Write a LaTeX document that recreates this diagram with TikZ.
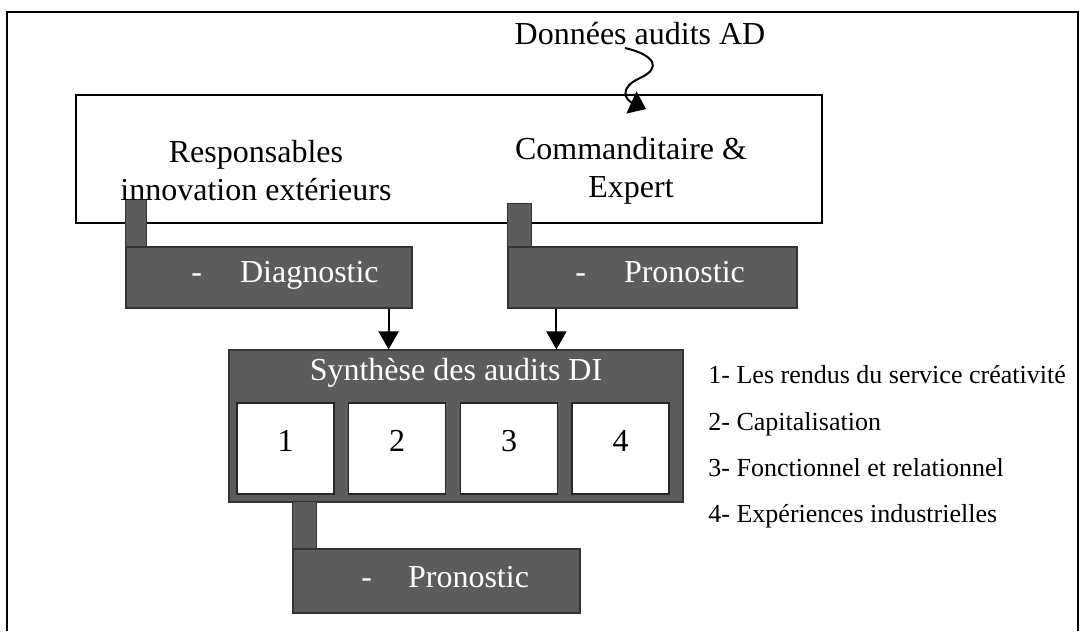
\documentclass[tikz,border=0pt]{standalone}
\usepackage{fontspec}
\setmainfont{Liberation Serif}
\usepackage{tikz}
\usetikzlibrary{
	arrows.meta,
	positioning,
	calc
}
\usepackage{xcolor}
\definecolor{fondgris}{gray}{0.36}

\tikzset{
	cadre/.style={draw=black,line width=1pt,fill=white,inner sep=0pt},
	bloc/.style={fill=fondgris,draw=black!80,line width=0.6pt,inner sep=0pt},
	casebox/.style={fill=white,draw=black!85,line width=0.6pt,inner sep=0pt,
		minimum width=48.5pt,minimum height=45.5pt,
		font=\fontsize{16}{19}\selectfont,text height=11pt,text depth=8pt},
	titre/.style={text=white,font=\fontsize{16}{19}\selectfont,inner sep=0pt},
	texte/.style={font=\fontsize{16}{19}\selectfont,align=center,inner sep=0pt},
	legende/.style={font=\fontsize{13}{15}\selectfont,anchor=base west,inner sep=0pt},
	fleche/.style={line width=1pt,-{Triangle[width=10pt,length=9pt]}}
}

\begin{document}
\begin{tikzpicture}[x=0.5pt,y=-0.5pt]
		
		\useasboundingbox (0,0) rectangle (1080,631);
		
		% Outer frame
		\draw[line width=1pt] (7,631) -- (7,12) -- (1078,12) -- (1078,631);
		
		% Actors
		\node[cadre,minimum width=373pt,minimum height=64pt] (acteurs) at (449,159) {};
		\node[texte,anchor=base] (donnees) at (640,45) {Données audits AD};
		
		\coordinate (entree) at ([xshift=98.5pt,yshift=-7.5pt]acteurs.north);
		\draw[line width=1pt,-{Triangle[width=12pt,length=8pt]}]
		([xshift=-7.5pt,yshift=-1.5pt]donnees.base) .. controls (655,55) and (662,68) .. (640,78)
		.. controls (618,88) and (626,100) .. (entree);
		
		% Diagnostic / pronostic
		\node[bloc,minimum width=143pt,minimum height=30.5pt] (diag) at (269,277.5) {};
		\filldraw[bloc] (diag.north west) -- ++(0,-47) -- ++(21,0) -- ++(0,47);
		\node[titre,anchor=base west] (diagtxt) at (191,282) {-\hspace{19pt}Diagnostic};
		
		\node[bloc,minimum width=144.5pt,minimum height=30.5pt] (pronoA) at (652.5,277.5) {};
		\filldraw[bloc] (pronoA.north west) -- ++(0,-43) -- ++(24,0) -- ++(0,43);
		\node[titre,anchor=base west] (pronoAtxt) at (575,282) {-\hspace{19pt}Pronostic};
		
		\node[texte] (resp) at (256,171) {Responsables\\innovation extérieurs};
		\node[texte] (comm) at (631,171) {Commanditaire \&\\Expert};
		
		% Synthesis
		\node[bloc,minimum width=227pt,minimum height=76pt] (synth) at (456,426) {};
		\node[titre,anchor=base] (synthtxt) at (456,380) {Synthèse des audits DI};
		\foreach \i/\x in {1/285.5,2/397,3/509,4/620.5}
		\node[casebox] (case\i) at (\x,448.5) {\i};
		
		\coordinate (d1) at ([xshift=-12pt]diag.south east);
		\coordinate (d2) at ([xshift=24.5pt]pronoA.south west);
		\draw[fleche] (d1) -- (d1 |- synth.north);
		\draw[fleche] (d2) -- (d2 |- synth.north);
		
		\node[bloc,minimum width=143.5pt,minimum height=32pt] (pronoB) at (436.5,581) {};
		\filldraw[bloc] (pronoB.north west) -- ++(0,-47) -- ++(24,0) -- ++(0,47);
		\node[titre,anchor=base west] (pronoBtxt) at (361,587) {-\hspace{18pt}Pronostic};
		
		% Legend
		\foreach \y/\t [count=\k] in {383/1- Les rendus du service créativité,
			430/2- Capitalisation,476/3- Fonctionnel et relationnel,
			522/4- Expériences industrielles}
		\node[legende] (leg\k) at (708,\y) {\t};
		
	\end{tikzpicture}
\end{document}
